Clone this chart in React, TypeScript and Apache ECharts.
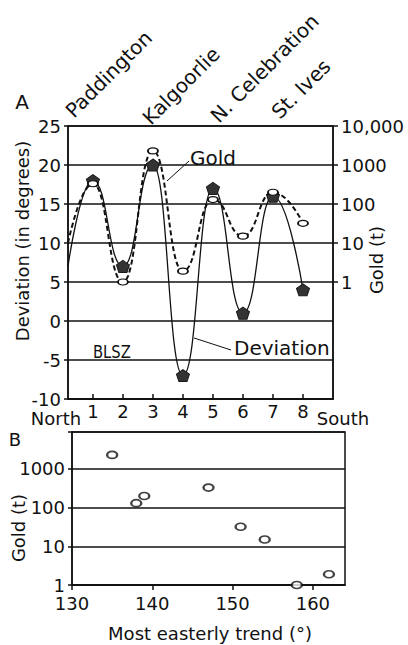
import React, { useEffect, useRef } from 'react';
import * as echarts from 'echarts';

// Panel A: positions along the belt, north to south
const positions = [1, 2, 3, 4, 5, 6, 7, 8];
const deviation = [18, 7, 20, -7, 17, 1, 16, 4];
const goldA = [330, 1, 2300, 1.9, 130, 15, 200, 32];
const xStart = 0.17;
const xEnd = 9;
const deviationAtNorthEdge = 7;
const goldAtNorthEdge = 10;
const goldTicksA = [1, 10, 100, 1000, 10000];
const goldTickPositionsA = [5, 10, 15, 20, 25];
const districts = ['Paddington', 'Kalgoorlie', 'N. Celebration', 'St. Ives'];

// Panel B
const trend = [135, 138, 139, 147, 151, 154, 158, 162];
const goldB = [2300, 130, 200, 330, 32, 15, 1, 1.9];
const trendTicks = [130, 140, 150, 160];

const FONT = 'DejaVu Sans';
const INK = '#111';

const pentagon = 'path://M0,-10L9.511,-3.09L5.878,8.09L-5.878,8.09L-9.511,-3.09Z';
const ellipse = 'path://M-10,0A10,10,0,1,0,10,0A10,10,0,1,0,-10,0Z';

const districtAnchors = [
  [76, 121],
  [153, 128],
  [221, 126],
  [282, 122],
];

function txt(text: string, x: number, y: number, size: number, align = 'center', vAlign = 'middle', rotation = 0, extra: any = {}) {
  return {
    type: 'text',
    x,
    y,
    rotation,
    ...extra,
    style: { text, fill: INK, fontSize: size, fontFamily: FONT, align, verticalAlign: vAlign },
  };
}

export default function App() {
  const ref = useRef<HTMLDivElement>(null);
  useEffect(() => {
    if (!ref.current) return;
    const chart = echarts.init(ref.current, undefined, { renderer: 'svg' });
    const axisLine = { show: true, onZero: false, lineStyle: { color: INK, width: 1.5 } };
    const label = { color: INK, fontSize: 18, fontFamily: FONT, lineHeight: 16 };
    const option: any = {
      animation: false,
      backgroundColor: '#fff',
      textStyle: { fontFamily: FONT, color: INK },
      grid: [
        { left: 68, top: 126, width: 265, height: 273, show: true, borderColor: INK, borderWidth: 1.5 },
        { left: 72, top: 432, width: 273, height: 153, show: true, borderColor: INK, borderWidth: 1.5 },
      ],
      xAxis: [
        {
          gridIndex: 0,
          type: 'value',
          min: xStart,
          max: xEnd,
          axisLine,
          axisTick: { show: true, inside: true, length: 5, customValues: positions, lineStyle: { color: INK, width: 1.5 } },
          axisLabel: { ...label, margin: 4, customValues: positions },
          splitLine: { show: false },
        },
        {
          gridIndex: 1,
          type: 'value',
          min: 130,
          max: 164,
          axisLine,
          axisTick: { show: true, length: 5, customValues: trendTicks, lineStyle: { color: INK, width: 1.5 } },
          axisLabel: { ...label, margin: 10, customValues: trendTicks },
          splitLine: { show: false },
        },
      ],
      yAxis: [
        {
          gridIndex: 0,
          type: 'value',
          min: -10,
          max: 25,
          interval: 5,
          position: 'left',
          axisLine,
          axisTick: { show: true, length: 4, lineStyle: { color: INK, width: 1.5 } },
          axisLabel: { ...label, margin: 7 },
          splitLine: { show: true, lineStyle: { color: INK, width: 1.5 } },
        },
        {
          gridIndex: 0,
          type: 'log',
          logBase: 10,
          min: 0.001,
          max: 10000,
          position: 'right',
          axisLine,
          axisTick: { show: false },
          axisLabel: {
            ...label,
            margin: 8,
            formatter: (v: number) => {
              if (v < 0.999) return '';
              const r = Math.round(v);
              return goldTicksA.indexOf(r) < 0 ? '' : r === 10000 ? '10,000' : String(r);
            },
          },
          splitLine: { show: false },
        },
        {
          gridIndex: 0,
          type: 'value',
          min: -10,
          max: 25,
          position: 'right',
          axisLine: { show: false },
          axisTick: { show: true, length: 5, customValues: goldTickPositionsA, lineStyle: { color: INK, width: 1.5 } },
          axisLabel: { show: false },
          splitLine: { show: false },
        },
        {
          gridIndex: 1,
          type: 'log',
          logBase: 10,
          min: 1,
          max: 9000,
          position: 'left',
          axisLine,
          axisTick: { show: true, length: 4, lineStyle: { color: INK, width: 1.5 } },
          axisLabel: {
            ...label,
            margin: 7,
            formatter: (v: number) => {
              const l = Math.log10(v);
              return Math.abs(l - Math.round(l)) < 1e-6 && v < 5000 ? String(Math.round(v)) : '';
            },
          },
          splitLine: { show: true, lineStyle: { color: INK, width: 1.5 } },
        },
      ],
      series: [
        {
          type: 'line',
          xAxisIndex: 0,
          yAxisIndex: 0,
          smooth: 0.5,
          smoothMonotone: 'x',
          symbol: pentagon,
          symbolSize: [13, 12],
          showAllSymbol: true,
          itemStyle: { color: '#333', borderColor: '#1a1a1a', borderWidth: 1 },
          lineStyle: { color: INK, width: 1.3 },
          data: [
            { value: [xStart, deviationAtNorthEdge], symbol: 'none' },
            ...positions.map((p, i) => [p, deviation[i]]),
          ],
          z: 3,
        },
        {
          type: 'line',
          xAxisIndex: 0,
          yAxisIndex: 1,
          smooth: 0.5,
          smoothMonotone: 'x',
          symbol: ellipse,
          symbolSize: [10, 6],
          showAllSymbol: true,
          itemStyle: { color: '#fff', borderColor: INK, borderWidth: 1.5 },
          lineStyle: { color: INK, width: 2, type: [5, 3] },
          data: [
            { value: [xStart, goldAtNorthEdge], symbol: 'none' },
            ...positions.map((p, i) => [p, goldA[i]]),
          ],
          z: 4,
        },
        {
          type: 'scatter',
          xAxisIndex: 1,
          yAxisIndex: 3,
          symbol: ellipse,
          symbolSize: [10, 7],
          itemStyle: { color: '#fff', borderColor: INK, borderWidth: 2 },
          data: trend.map((t, i) => [t, goldB[i]]),
          z: 4,
        },
      ],
      graphic: [
        txt('A', 22, 102, 20),
        txt('B', 15, 439, 18),
        ...districts.map((d, i) =>
          txt(d, districtAnchors[i][0], districtAnchors[i][1], 20, 'left', 'bottom', Math.PI / 4)
        ),
        txt('Deviation (in degrees)', 22, 241, 18, 'center', 'middle', Math.PI / 2),
        txt('Gold (t)', 376, 260, 18, 'center', 'middle', Math.PI / 2),
        txt('North', 56, 418, 18),
        txt('South', 343, 418, 18),
        txt('Gold', 190, 158, 20, 'left'),
        { type: 'line', shape: { x1: 189, y1: 161, x2: 167, y2: 181 }, style: { stroke: INK, lineWidth: 1 } },
        txt('Deviation', 234, 348, 20, 'left'),
        { type: 'line', shape: { x1: 231, y1: 350, x2: 194, y2: 338 }, style: { stroke: INK, lineWidth: 1 } },
        txt('BLSZ', 93, 352, 18, 'left', 'middle', 0, { scaleX: 0.82, originX: 0, originY: 0 }),
        txt('Gold (t)', 18, 528, 18, 'center', 'middle', Math.PI / 2),
        txt('Most easterly trend (°)', 210, 633, 18),
      ],
    };
    chart.setOption(option);
    return () => chart.dispose();
  }, []);
  return <div ref={ref} style={{ position: 'absolute', left: 0, top: 0, width: 408, height: 645 }} />;
}
